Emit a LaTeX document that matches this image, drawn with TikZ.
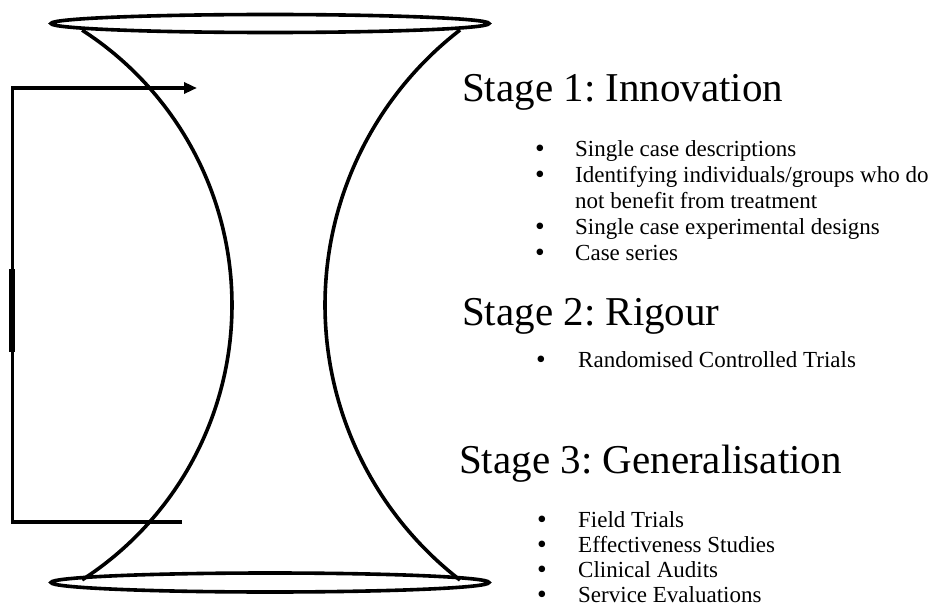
\documentclass[tikz,border=0pt]{standalone}
\usepackage{fontspec}
\setmainfont{Liberation Serif}
\usetikzlibrary{arrows.meta}
\frenchspacing
\newcommand{\bigdot}{\scalebox{1.2}{\textbullet}}
\begin{document}
\begin{tikzpicture}[x=1pt,y=-1pt,
  outline/.style={line width=3.6pt, black},
  heading/.style={anchor=base west, inner sep=0pt, font=\fontsize{41}{48}\selectfont},
  item/.style={anchor=base west, inner sep=0pt, font=\fontsize{23}{26}\selectfont},
  dot/.style={anchor=base, inner sep=0pt, yshift=-1.5pt, font=\fontsize{23}{26}\selectfont}]
\useasboundingbox (0,0) rectangle (946,610);

% hourglass: two rims and two concave sides
\draw[outline] (270,23.5) ellipse [x radius=219, y radius=9];
\draw[outline] (270,582.5) ellipse [x radius=219, y radius=9.5];
\draw[outline] plot[domain=-57.2:57.2, samples=80, smooth]
  ({-95+327*cos(\x)},{305+327*sin(\x)});
\draw[outline] plot[domain=127.7:232.3, samples=80, smooth]
  ({672.6+347.6*cos(\x)},{305+347.6*sin(\x)});

% feedback bracket from the bottom back to the top
\coordinate (loopStart) at (182,522);
\coordinate (loopEnd) at (197,88);
\draw[line width=3.4pt, line join=miter, -{Triangle[length=13pt,width=11pt]}]
  (loopStart) -- (12.5,522) -- (12.5,88) -- (loopEnd);
\draw[line width=6pt] (11.8,269) -- (11.8,352);

% stage 1
\node[heading] (s1) at (462,102) {Stage 1: Innovation};
\node[dot] (b11) at (540,156) {\bigdot};
\node[item] (i11) at (575,156) {Single case descriptions};
\node[dot] (b12) at (540,182) {\bigdot};
\node[item] (i12) at (575,182) {Identifying individuals/groups who do};
\node[item] (i12b) at (575,208) {not benefit from treatment};
\node[dot] (b13) at (540,234) {\bigdot};
\node[item] (i13) at (575,234) {Single case experimental designs};
\node[dot] (b14) at (540,260) {\bigdot};
\node[item] (i14) at (575,260) {Case series};

% stage 2
\node[heading] (s2) at (462,325) {Stage 2: Rigour};
\node[dot] (b21) at (541,367) {\bigdot};
\node[item] (i21) at (578,367) {Randomised Controlled Trials};

% stage 3
\node[heading] (s3) at (459,473) {Stage 3: Generalisation};
\node[dot] (b31) at (542,527) {\bigdot};
\node[item] (i31) at (578,527) {Field Trials};
\node[dot] (b32) at (542,552) {\bigdot};
\node[item] (i32) at (578,552) {Effectiveness Studies};
\node[dot] (b33) at (542,577) {\bigdot};
\node[item] (i33) at (578,577) {Clinical Audits};
\node[dot] (b34) at (542,602) {\bigdot};
\node[item] (i34) at (578,602) {Service Evaluations};
\end{tikzpicture}
\end{document}
